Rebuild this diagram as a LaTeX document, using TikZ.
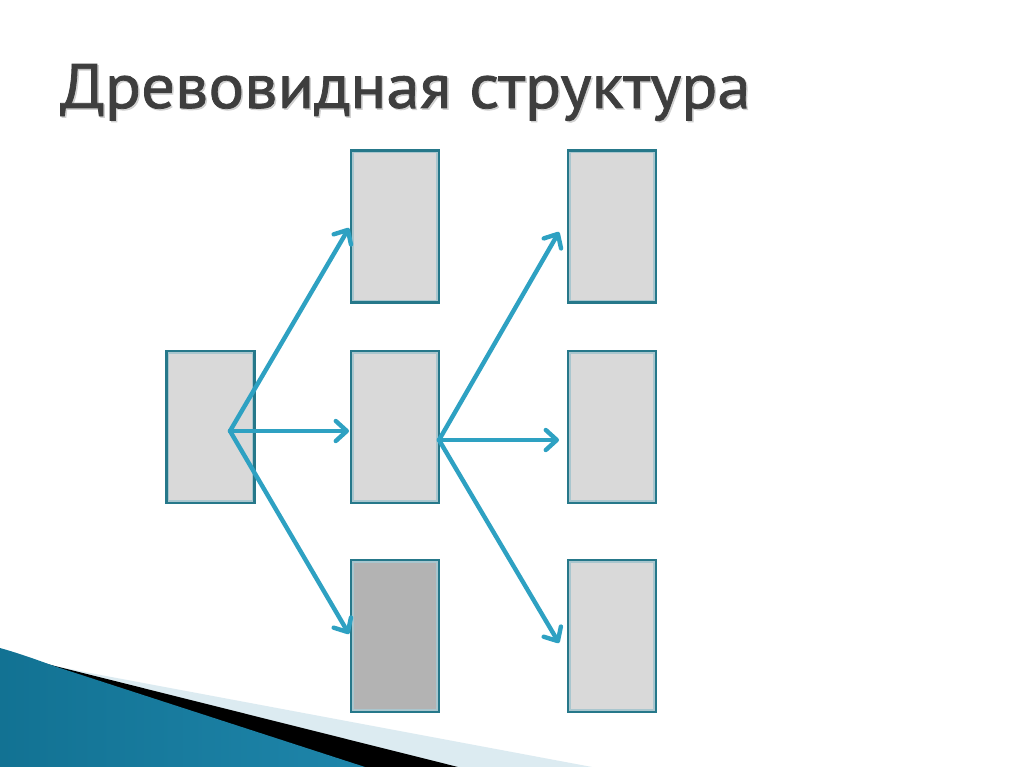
\documentclass[tikz,border=0pt]{standalone}
\usepackage{fontspec}
\setmainfont{PT Sans}
\newfontfamily\titlefont[FakeBold=1.2]{PT Sans}
\usetikzlibrary{arrows.meta}
\definecolor{boxedge}{HTML}{26788A}
\definecolor{boxinner}{HTML}{A9C6CE}
\definecolor{boxfill}{HTML}{D9D9D9}
\definecolor{boxdark}{HTML}{B3B3B3}
\definecolor{arrowblue}{HTML}{2EA1C2}
\definecolor{titlegray}{HTML}{3E3E3E}
\definecolor{bandlight}{HTML}{DCEBF1}
\definecolor{wedgedark}{HTML}{127293}
\definecolor{wedgemid}{HTML}{78CAE6}
\definecolor{wedgeend}{HTML}{1E85AA}
\tikzset{
  treebox/.style={rectangle, draw=boxedge, line width=3.6pt, fill=boxfill,
    minimum width=87pt, minimum height=151pt, inner sep=0pt},
  darkbox/.style={treebox, fill=boxdark},
  link/.style={draw=arrowblue, line width=4.4pt, line cap=round,
    -{Straight Barb[length=11pt, width=20pt, line cap=round, line join=round]}},
}
\newcommand{\innerframe}[1]{%
  \draw[boxinner, line width=1.3pt] ([shift={(3.4pt,-3.4pt)}]#1.north west) rectangle ([shift={(-3.4pt,3.4pt)}]#1.south east);}
\begin{document}
\begin{tikzpicture}[x=1pt,y=-1pt]
\useasboundingbox (0,0) rectangle (1024,767);
\fill[white] (0,0) rectangle (1024,767);

% bottom-left decoration
\fill[bandlight] (55,666) -- (90,673) -- (592,767) -- (0,767) -- cycle;
\fill[black] (0,652) -- (55,666) -- (458,767) -- (0,767) -- cycle;
\shade[left color=wedgedark, middle color=wedgemid, right color=wedgeend]
  (0,648) .. controls (25,655) and (45,663) .. (60,668) -- (365,767) -- (0,767) -- cycle;

% title
\node[anchor=base west, inner sep=0pt, text=black!18] (titleshadow) at (61.5,109.5)
  {\titlefont\resizebox{690pt}{44pt}{Древовидная структура}};
\node[anchor=base west, inner sep=0pt, text=titlegray] (title) at (60,108)
  {\titlefont\resizebox{690pt}{44pt}{Древовидная структура}};

% boxes
\node[treebox] (root) at (210.5,427) {};
\node[treebox] (m1) at (395,226.5) {};
\node[treebox] (m2) at (395,427) {};
\node[darkbox] (m3) at (395,636) {};
\node[treebox] (r1) at (612,226.5) {};
\node[treebox] (r2) at (612,427) {};
\node[treebox] (r3) at (612,636) {};
\innerframe{root}\innerframe{m1}\innerframe{m2}\innerframe{m3}
\innerframe{r1}\innerframe{r2}\innerframe{r3}

% connector points
\coordinate (rootsrc) at (230,431);
\coordinate (midsrc) at (439,440);
\coordinate (m1in) at (349,228);
\coordinate (m2in) at (349,431);
\coordinate (m3in) at (349,634);
\coordinate (r1in) at (559,232);
\coordinate (r2in) at (559,440);
\coordinate (r3in) at (559,643);

\draw[link] (rootsrc) -- (m1in);
\draw[link] (rootsrc) -- (m2in);
\draw[link] (rootsrc) -- (m3in);
\draw[link] (midsrc) -- (r1in);
\draw[link] (midsrc) -- (r2in);
\draw[link] (midsrc) -- (r3in);
\end{tikzpicture}
\end{document}
